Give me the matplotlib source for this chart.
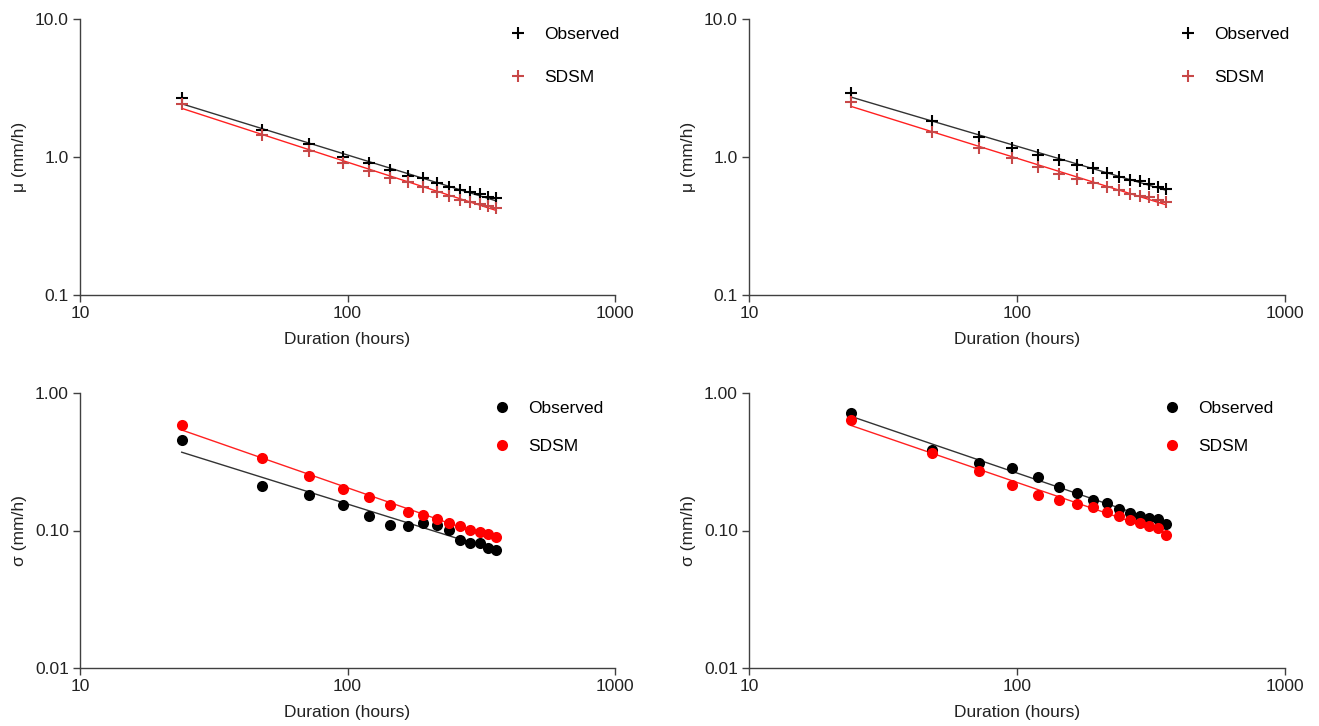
import numpy as np
import matplotlib
matplotlib.use("Agg")
import matplotlib.pyplot as plt
from matplotlib.ticker import FixedLocator, FixedFormatter, NullLocator

plt.rcParams['font.family'] = ['Liberation Sans', 'DejaVu Sans']

duration = [24, 48, 72, 96, 120, 144, 168, 192, 216, 240, 264, 288, 312, 336, 360]

mu_obs_a = [2.66, 1.57, 1.24, 0.995, 0.90, 0.80, 0.73, 0.70, 0.645, 0.61, 0.58, 0.56, 0.54, 0.515, 0.505]
mu_sdsm_a = [2.42, 1.44, 1.10, 0.90, 0.79, 0.71, 0.66, 0.61, 0.56, 0.52, 0.49, 0.475, 0.46, 0.44, 0.43]
mu_obs_b = [2.92, 1.83, 1.40, 1.16, 1.03, 0.95, 0.875, 0.83, 0.77, 0.72, 0.68, 0.67, 0.64, 0.61, 0.59]
mu_sdsm_b = [2.52, 1.52, 1.16, 0.98, 0.84, 0.75, 0.69, 0.645, 0.61, 0.58, 0.54, 0.52, 0.51, 0.49, 0.47]

sd_obs_a = [0.455, 0.21, 0.181, 0.152, 0.127, 0.110, 0.107, 0.114, 0.110, 0.101, 0.085, 0.0815, 0.081, 0.074, 0.072]
sd_sdsm_a = [0.585, 0.335, 0.249, 0.200, 0.174, 0.153, 0.137, 0.130, 0.121, 0.114, 0.107, 0.101, 0.097, 0.094, 0.089]
sd_obs_b = [0.72, 0.385, 0.311, 0.283, 0.246, 0.206, 0.186, 0.167, 0.159, 0.143, 0.135, 0.127, 0.123, 0.121, 0.111]
sd_sdsm_b = [0.636, 0.364, 0.271, 0.214, 0.181, 0.167, 0.156, 0.149, 0.137, 0.127, 0.119, 0.113, 0.107, 0.104, 0.093]

x_ticks = [10, 100, 1000]
x_labels = ['10', '100', '1000']
mu_ticks = [0.1, 1.0, 10.0]
mu_labels = ['0.1', '1.0', '10.0']
sd_ticks = [0.01, 0.1, 1.0]
sd_labels = ['0.01', '0.10', '1.00']

W, H = 1319, 726
fig = plt.figure(figsize=(W / 100, H / 100), dpi=100)

def ax_at(l, t, r, b):
    return fig.add_axes([l / W, 1 - b / H, (r - l) / W, (b - t) / H])

axes = [ax_at(80, 19, 615, 295), ax_at(749, 19, 1285, 295),
        ax_at(80, 393, 615, 668), ax_at(749, 393, 1285, 668)]

spine_c = '#404040'
fs = 12.5

def powerfit(x, y):
    lx, ly = np.log10(x), np.log10(y)
    k, c = np.polyfit(lx, ly, 1)
    return 10 ** (c + k * lx)

def style(ax, yt, yl, ylab, ylim):
    ax.set_xscale('log')
    ax.set_yscale('log')
    ax.set_xlim(10, 1000)
    ax.set_ylim(*ylim)
    ax.xaxis.set_major_locator(FixedLocator(x_ticks))
    ax.xaxis.set_major_formatter(FixedFormatter(x_labels))
    ax.xaxis.set_minor_locator(NullLocator())
    ax.yaxis.set_major_locator(FixedLocator(yt))
    ax.yaxis.set_major_formatter(FixedFormatter(yl))
    ax.yaxis.set_minor_locator(NullLocator())
    for s in ['top', 'right']:
        ax.spines[s].set_visible(False)
    for s in ['left', 'bottom']:
        ax.spines[s].set_color(spine_c)
        ax.spines[s].set_linewidth(1.0)
    ax.tick_params(direction='out', length=5, width=1.0, color=spine_c,
                   labelsize=fs, labelcolor='#222222', pad=3)
    ax.set_xlabel('Duration (hours)', fontsize=fs, color='#222222', labelpad=8)
    ax.set_ylabel(ylab, fontsize=fs, color='#222222', labelpad=6)

# top panels: mu
for ax, obs, sd in [(axes[0], mu_obs_a, mu_sdsm_a), (axes[1], mu_obs_b, mu_sdsm_b)]:
    ax.plot(duration, powerfit(duration, obs), color='#333333', lw=1.0, zorder=2)
    ax.plot(duration, powerfit(duration, sd), color='#ff2020', lw=1.0, zorder=2)
    ax.plot(duration, obs, linestyle='none', marker='+', ms=8, mew=1.5,
            color='black', label='Observed', zorder=3)
    ax.plot(duration, sd, linestyle='none', marker='+', ms=8, mew=1.5,
            color='#c84848', label='SDSM', zorder=3)
    style(ax, mu_ticks, mu_labels, 'μ (mm/h)', (0.1, 10))
    ax.legend(loc='upper left', bbox_to_anchor=(0.79, 0.995), frameon=False,
              fontsize=fs, handlelength=1.0, handletextpad=1.0, labelspacing=1.6,
              borderaxespad=0)

# bottom panels: sigma
for ax, obs, sd in [(axes[2], sd_obs_a, sd_sdsm_a), (axes[3], sd_obs_b, sd_sdsm_b)]:
    ax.plot(duration, powerfit(duration, obs), color='#333333', lw=1.0, zorder=2)
    ax.plot(duration, powerfit(duration, sd), color='#ff2020', lw=1.0, zorder=2)
    ax.plot(duration, obs, linestyle='none', marker='o', ms=8, mew=0,
            color='black', label='Observed', zorder=3)
    ax.plot(duration, sd, linestyle='none', marker='o', ms=8, mew=0,
            color='#ff0000', label='SDSM', zorder=4)
    style(ax, sd_ticks, sd_labels, 'σ (mm/h)', (0.01, 1.0))
    ax.legend(loc='upper left', bbox_to_anchor=(0.76, 0.995), frameon=False,
              fontsize=fs, handlelength=1.0, handletextpad=1.0, labelspacing=1.3,
              borderaxespad=0)

fig.savefig('out.png', dpi=100)
